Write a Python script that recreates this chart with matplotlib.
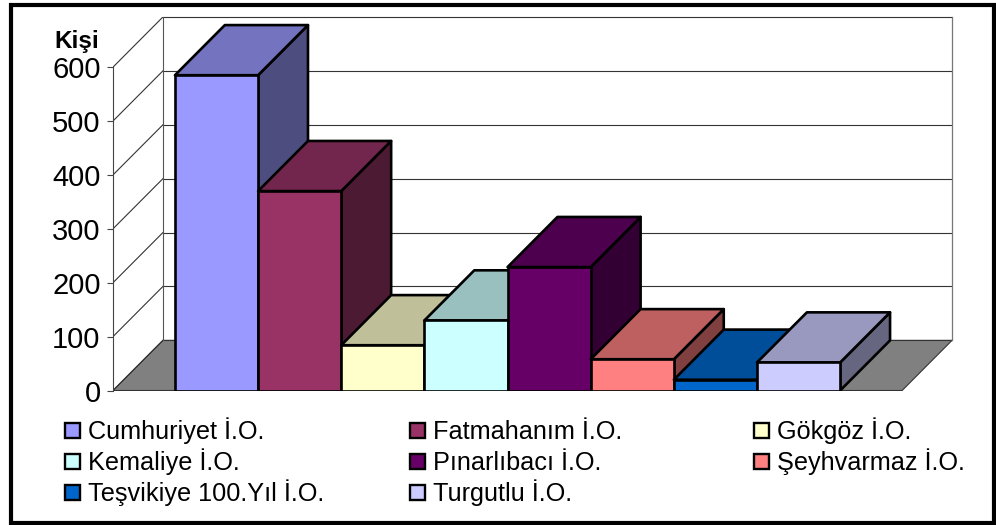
import matplotlib
matplotlib.use("Agg")
import matplotlib.pyplot as plt
from matplotlib.patches import Rectangle

plt.rcParams['font.family'] = ['Liberation Sans', 'DejaVu Sans']

# Values
schools = ["Cumhuriyet İ.O.", "Fatmahanım İ.O.", "Gökgöz İ.O.", "Kemaliye İ.O.",
           "Pınarlıbacı İ.O.", "Şeyhvarmaz İ.O.", "Teşvikiye 100.Yıl İ.O.", "Turgutlu İ.O."]
people = [585, 370, 84, 130, 229, 58, 20, 52]
colors = ["#9999FF", "#993366", "#FFFFCC", "#CCFFFF", "#660066", "#FF8080", "#0066CC", "#CCCCFF"]
y_ticks = [0, 100, 200, 300, 400, 500, 600]

W, H = 996, 525
GAP = 0.745         # space before the first bar, in bar widths
DEPTH_X = 0.6       # 3D offset in bar widths
DEPTH_Y = 93        # 3D offset in value units
Y_MAX = y_ticks[-1]
X_MAX = GAP * 2 + len(people)


def shade(color, factor):
    rgb = matplotlib.colors.to_rgb(color)
    return tuple(c * factor for c in rgb)


def fx(x):
    return x / W


def fy(y):
    return 1 - y / H


fig = plt.figure(figsize=(W / 100, H / 100), dpi=100)
ax = fig.add_axes([fx(113), fy(390.5), (952 - 113) / W, (390.5 - 17) / H])
ax.set_xlim(0, X_MAX + DEPTH_X)
ax.set_ylim(0, Y_MAX + DEPTH_Y)
ax.patch.set_alpha(0)

# Floor
ax.fill([0, X_MAX, X_MAX + DEPTH_X, DEPTH_X], [0, 0, DEPTH_Y, DEPTH_Y],
        facecolor="#808080", edgecolor="#333333", linewidth=0.8, zorder=1)

# Walls and gridlines
for t in y_ticks:
    ax.plot([0, DEPTH_X], [t, t + DEPTH_Y], color="#333333", lw=0.8, zorder=2)
    ax.plot([DEPTH_X, X_MAX + DEPTH_X], [t + DEPTH_Y, t + DEPTH_Y], color="#333333", lw=0.8, zorder=2,
            clip_on=False)
ax.plot([DEPTH_X, DEPTH_X], [DEPTH_Y, Y_MAX + DEPTH_Y], color="#555555", lw=0.8, zorder=2, clip_on=False)
ax.plot([X_MAX + DEPTH_X, X_MAX + DEPTH_X], [DEPTH_Y, Y_MAX + DEPTH_Y], color="#777777", lw=0.9, zorder=2,
        clip_on=False)

# Bars, left to right so later ones cover earlier ones
EDGE = 1.9
for i, (val, col) in enumerate(zip(people, colors)):
    x0 = GAP + i
    x1 = x0 + 1
    z = 3 + i
    ax.fill([x1, x1 + DEPTH_X, x1 + DEPTH_X, x1], [0, DEPTH_Y, val + DEPTH_Y, val],
            facecolor=shade(col, 0.5), edgecolor="black", linewidth=EDGE, joinstyle="round", zorder=z)
    ax.fill([x0, x1, x1 + DEPTH_X, x0 + DEPTH_X], [val, val, val + DEPTH_Y, val + DEPTH_Y],
            facecolor=shade(col, 0.75), edgecolor="black", linewidth=EDGE, joinstyle="round", zorder=z)
    ax.fill([x0, x1, x1, x0], [0, 0, val, val],
            facecolor=col, edgecolor="black", linewidth=EDGE, joinstyle="round", zorder=z)

# Axis
for name in ["top", "right", "bottom"]:
    ax.spines[name].set_visible(False)
ax.spines["left"].set_bounds(0, Y_MAX)
ax.spines["left"].set_color("#444444")
ax.spines["left"].set_linewidth(0.8)
ax.set_xticks([])
ax.set_yticks(y_ticks)
ax.tick_params(axis="y", length=4, width=0.8, color="#444444", labelsize=21, pad=5, labelcolor="black")

fig.text(fx(54), fy(48), "Kişi", fontsize=17.5, fontweight="bold", color="black", va="baseline")

# Legend, three columns filled row by row
col_x = [65, 410, 754]
row_y = [431, 462, 493]
for i, (name, col) in enumerate(zip(schools, colors)):
    x = col_x[i % 3]
    y = row_y[i // 3]
    fig.add_artist(Rectangle((fx(x), fy(y + 7)), 15 / W, 15 / H, transform=fig.transFigure,
                             facecolor=col, edgecolor="black", linewidth=1.7))
    fig.text(fx(x + 23), fy(y + 8), name, fontsize=18.2, color="black", va="baseline")

# Outer frame
fig.add_artist(Rectangle((fx(11), fy(523)), (994 - 11) / W, (523 - 5) / H, transform=fig.transFigure,
                         facecolor="none", edgecolor="black", linewidth=3))

fig.savefig("out.png", dpi=100)
